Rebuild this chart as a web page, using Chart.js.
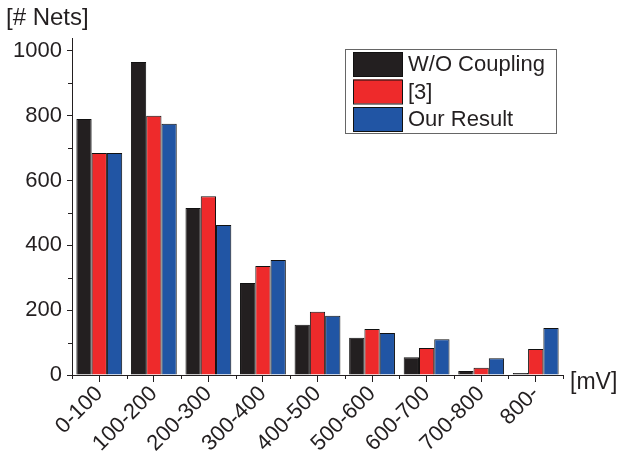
<!DOCTYPE html>
<html>
<head>
<meta charset="utf-8">
<script src="https://cdn.jsdelivr.net/npm/chart.js@4"></script>
<style>
html,body{margin:0;padding:0;background:#fff;}
#wrap{width:619px;height:456px;position:relative;}
</style>
</head>
<body>
<div id="wrap"><canvas id="c" width="619" height="456"></canvas></div>
<script>
const categories = ["0-100","100-200","200-300","300-400","400-500","500-600","600-700","700-800","800-"];
const withoutCoupling = [790, 966, 515, 284, 155, 115, 55, 12, 6];
const ref3 = [685, 800, 552, 336, 195, 142, 83, 22, 80];
const ourResult = [685, 775, 463, 355, 183, 130, 110, 52, 145];
const seriesNames = ["W/O Coupling", "[3]", "Our Result"];
const seriesColors = ["#231f20", "#ee2a2b", "#2155a4"];
const yTicks = [0, 200, 400, 600, 800, 1000];
const yMinorTicks = [100, 300, 500, 700, 900];
const yAxisTitle = "[# Nets]";
const xAxisTitle = "[mV]";

const FONT = "'Liberation Sans', Arial, sans-serif";
const INK = "#231f20";

const extras = {
  id: 'extras',
  afterDraw(chart) {
    const ctx = chart.ctx;
    const x = chart.scales.x, y = chart.scales.y;
    ctx.save();
    ctx.strokeStyle = INK;
    ctx.lineWidth = 1;
    // y minor ticks
    yMinorTicks.forEach(v => {
      const py = Math.round(y.getPixelForValue(v)) + 0.5;
      ctx.beginPath(); ctx.moveTo(x.left - 4, py); ctx.lineTo(x.left, py); ctx.stroke();
    });
    // x boundary ticks
    const n = categories.length;
    for (let i = 0; i <= n; i++) {
      const px = Math.round(x.left + (x.right - x.left) * i / n) + 0.5;
      ctx.beginPath(); ctx.moveTo(px, y.bottom); ctx.lineTo(px, y.bottom + 4); ctx.stroke();
    }
    // axis titles
    ctx.fillStyle = INK;
    ctx.font = "24px " + FONT;
    ctx.textAlign = 'left';
    ctx.textBaseline = 'alphabetic';
    ctx.fillText(yAxisTitle, 6, 25);
    ctx.font = "23px " + FONT;
    ctx.textBaseline = 'middle';
    ctx.fillText(xAxisTitle, 570, 383);
    // legend
    const lx = 345, ly = 49, lw = 211, lh = 84;
    ctx.strokeStyle = '#666';
    ctx.strokeRect(lx + 0.5, ly + 0.5, lw, lh);
    ctx.font = "22px " + FONT;
    chart.data.datasets.forEach((ds, i) => {
      const ry = 52 + i * 27.5;
      ctx.fillStyle = ds.backgroundColor;
      ctx.fillRect(353, ry, 49, 24);
      ctx.strokeStyle = '#111';
      ctx.strokeRect(353.5, ry + 0.5, 49, 24);
      ctx.fillStyle = INK;
      ctx.textBaseline = 'middle';
      ctx.fillText(ds.label, 408, ry + 13);
    });
    ctx.restore();
  }
};

new Chart(document.getElementById('c'), {
  type: 'bar',
  data: {
    labels: categories,
    datasets: [
      { label: seriesNames[0], data: withoutCoupling, backgroundColor: seriesColors[0] },
      { label: seriesNames[1], data: ref3, backgroundColor: seriesColors[1] },
      { label: seriesNames[2], data: ourResult, backgroundColor: seriesColors[2] }
    ].map(d => Object.assign(d, { borderColor: '#111', borderWidth: 1, categoryPercentage: 0.84, barPercentage: 1.0 }))
  },
  options: {
    responsive: false,
    animation: false,
    devicePixelRatio: 1,
    layout: { padding: { top: 38, right: 56, left: 0, bottom: 0 } },
    plugins: { legend: { display: false }, tooltip: { enabled: false } },
    scales: {
      x: {
        grid: { display: true, drawOnChartArea: false, offset: false, tickLength: 7, color: INK },
        border: { color: INK, width: 1 },
        ticks: { color: INK, font: { family: FONT, size: 22 }, maxRotation: 45, minRotation: 45, padding: -1, autoSkip: false },
        afterFit(s) { s.height = 81; }
      },
      y: {
        min: 0, max: 1040,
        afterBuildTicks(s) { s.ticks = yTicks.map(v => ({ value: v })); },
        grid: { display: true, drawOnChartArea: false, tickLength: 5, color: INK },
        border: { color: INK, width: 1 },
        ticks: { color: INK, font: { family: FONT, size: 22 }, padding: 5, callback: v => String(v) },
        afterFit(s) { s.width = 72; }
      }
    }
  },
  plugins: [extras]
});
</script>
</body>
</html>
